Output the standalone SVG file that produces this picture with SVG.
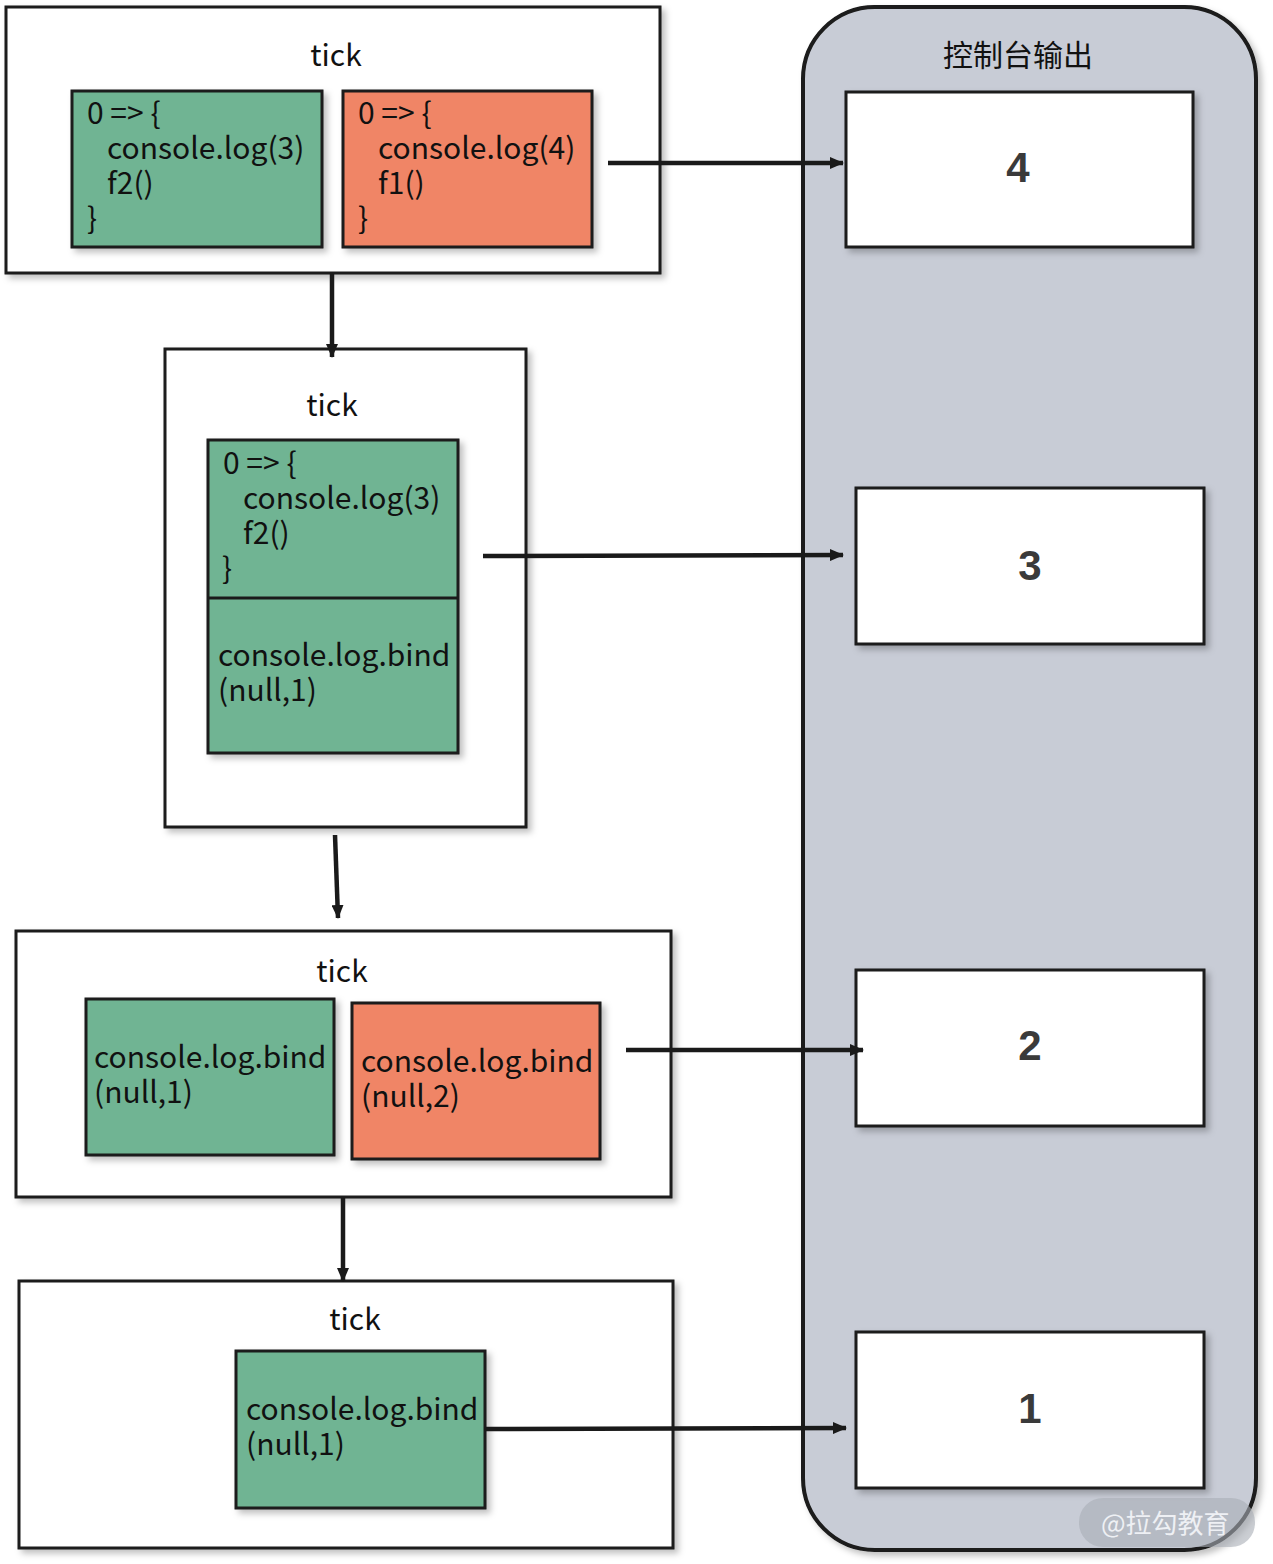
<svg xmlns="http://www.w3.org/2000/svg" width="1273" height="1564" viewBox="0 0 1273 1564">
<defs>
<filter id="sh" x="-10%" y="-10%" width="130%" height="130%">
<feDropShadow dx="4" dy="4" stdDeviation="3" flood-color="#000" flood-opacity="0.25"/>
</filter>
<marker id="ah" markerWidth="14" markerHeight="12" refX="13" refY="6" orient="auto" markerUnits="userSpaceOnUse">
<path d="M0,0 L14,6 L0,12 Z" fill="#1a1a1a"/>
</marker>
</defs>
<style>
.tick{fill:#fff;stroke:#1a1a1a;stroke-width:3;filter:url(#sh)}
.g{fill:#70b493;stroke:#1a1a1a;stroke-width:3;filter:url(#sh)}
.o{fill:#f08566;stroke:#1a1a1a;stroke-width:3;filter:url(#sh)}
.out{fill:#fff;stroke:#1a1a1a;stroke-width:3;filter:url(#sh)}
.t{font-family:"Noto Sans CJK SC","Noto Sans",sans-serif;font-size:30px;fill:#111}
.c{text-anchor:middle}
.n{font-family:"Liberation Sans",Arial,sans-serif;font-size:42px;font-weight:bold;fill:#3a3a3a;text-anchor:middle}
.conn line{stroke:#1a1a1a;stroke-width:4.5;marker-end:url(#ah)}
</style>
<rect width="1273" height="1564" fill="#fff"/>

<g id="console">
<rect x="803" y="7" width="453" height="1543" rx="72" fill="#c8ccd6" stroke="#1a1a1a" stroke-width="4" filter="url(#sh)"/>
<text class="t c" x="1018" y="66" font-size="29">控制台输出</text>
</g>
<g id="out4"><rect class="out" x="846" y="92" width="347" height="155"/><text class="n" x="1018" y="182">4</text></g>
<g id="out3"><rect class="out" x="856" y="488" width="348" height="156"/><text class="n" x="1030" y="580">3</text></g>
<g id="out2"><rect class="out" x="856" y="970" width="348" height="156"/><text class="n" x="1030" y="1060">2</text></g>
<g id="out1"><rect class="out" x="856" y="1332" width="348" height="156"/><text class="n" x="1030" y="1423">1</text></g>

<g id="tick1">
<rect class="tick" x="6" y="7" width="654" height="266"/>
<text class="t c" x="336" y="66">tick</text>
<rect class="g" x="72" y="91" width="250" height="156"/>
<text class="t" x="87" y="124">0 =&gt; {</text>
<text class="t" x="107" y="159">console.log(3)</text>
<text class="t" x="107" y="194">f2()</text>
<text class="t" x="87" y="229">}</text>
<rect class="o" x="343" y="91" width="249" height="156"/>
<text class="t" x="358" y="124">0 =&gt; {</text>
<text class="t" x="378" y="159">console.log(4)</text>
<text class="t" x="378" y="194">f1()</text>
<text class="t" x="358" y="229">}</text>
</g>

<g id="tick2">
<rect class="tick" x="165" y="349" width="361" height="478"/>
<text class="t c" x="332" y="416">tick</text>
<rect class="g" x="208" y="440" width="250" height="313"/>
<line x1="208" y1="598" x2="458" y2="598" stroke="#1a1a1a" stroke-width="3"/>
<text class="t" x="223" y="474">0 =&gt; {</text>
<text class="t" x="243" y="509">console.log(3)</text>
<text class="t" x="243" y="544">f2()</text>
<text class="t" x="222" y="579">}</text>
<text class="t" x="218" y="666">console.log.bind</text>
<text class="t" x="218" y="701">(null,1)</text>
</g>

<g id="tick3">
<rect class="tick" x="16" y="931" width="655" height="266"/>
<text class="t c" x="342" y="982">tick</text>
<rect class="g" x="86" y="999" width="248" height="156"/>
<text class="t" x="94" y="1068">console.log.bind</text>
<text class="t" x="94" y="1103">(null,1)</text>
<rect class="o" x="352" y="1003" width="248" height="156"/>
<text class="t" x="361" y="1072">console.log.bind</text>
<text class="t" x="361" y="1107">(null,2)</text>
</g>

<g id="tick4">
<rect class="tick" x="19" y="1281" width="654" height="267"/>
<text class="t c" x="355" y="1330">tick</text>
<rect class="g" x="236" y="1351" width="249" height="157"/>
<text class="t" x="246" y="1420">console.log.bind</text>
<text class="t" x="246" y="1455">(null,1)</text>
</g>

<g class="conn">
<line x1="608" y1="163" x2="843" y2="163"/>
<line x1="332" y1="273" x2="332" y2="357"/>
<line x1="483" y1="556" x2="843" y2="555"/>
<line x1="335" y1="835" x2="338" y2="918"/>
<line x1="626" y1="1050" x2="863" y2="1050"/>
<line x1="343" y1="1197" x2="343" y2="1281"/>
<line x1="485" y1="1429" x2="846" y2="1428"/>
</g>

<g id="watermark">
<rect x="1079" y="1498" width="176" height="49" rx="24" fill="#a9adb6" fill-opacity="0.6"/>
<text x="1101" y="1533" font-family="'Noto Sans CJK SC',sans-serif" font-size="26" fill="#eef0f4">@拉勾教育</text>
</g>
</svg>
